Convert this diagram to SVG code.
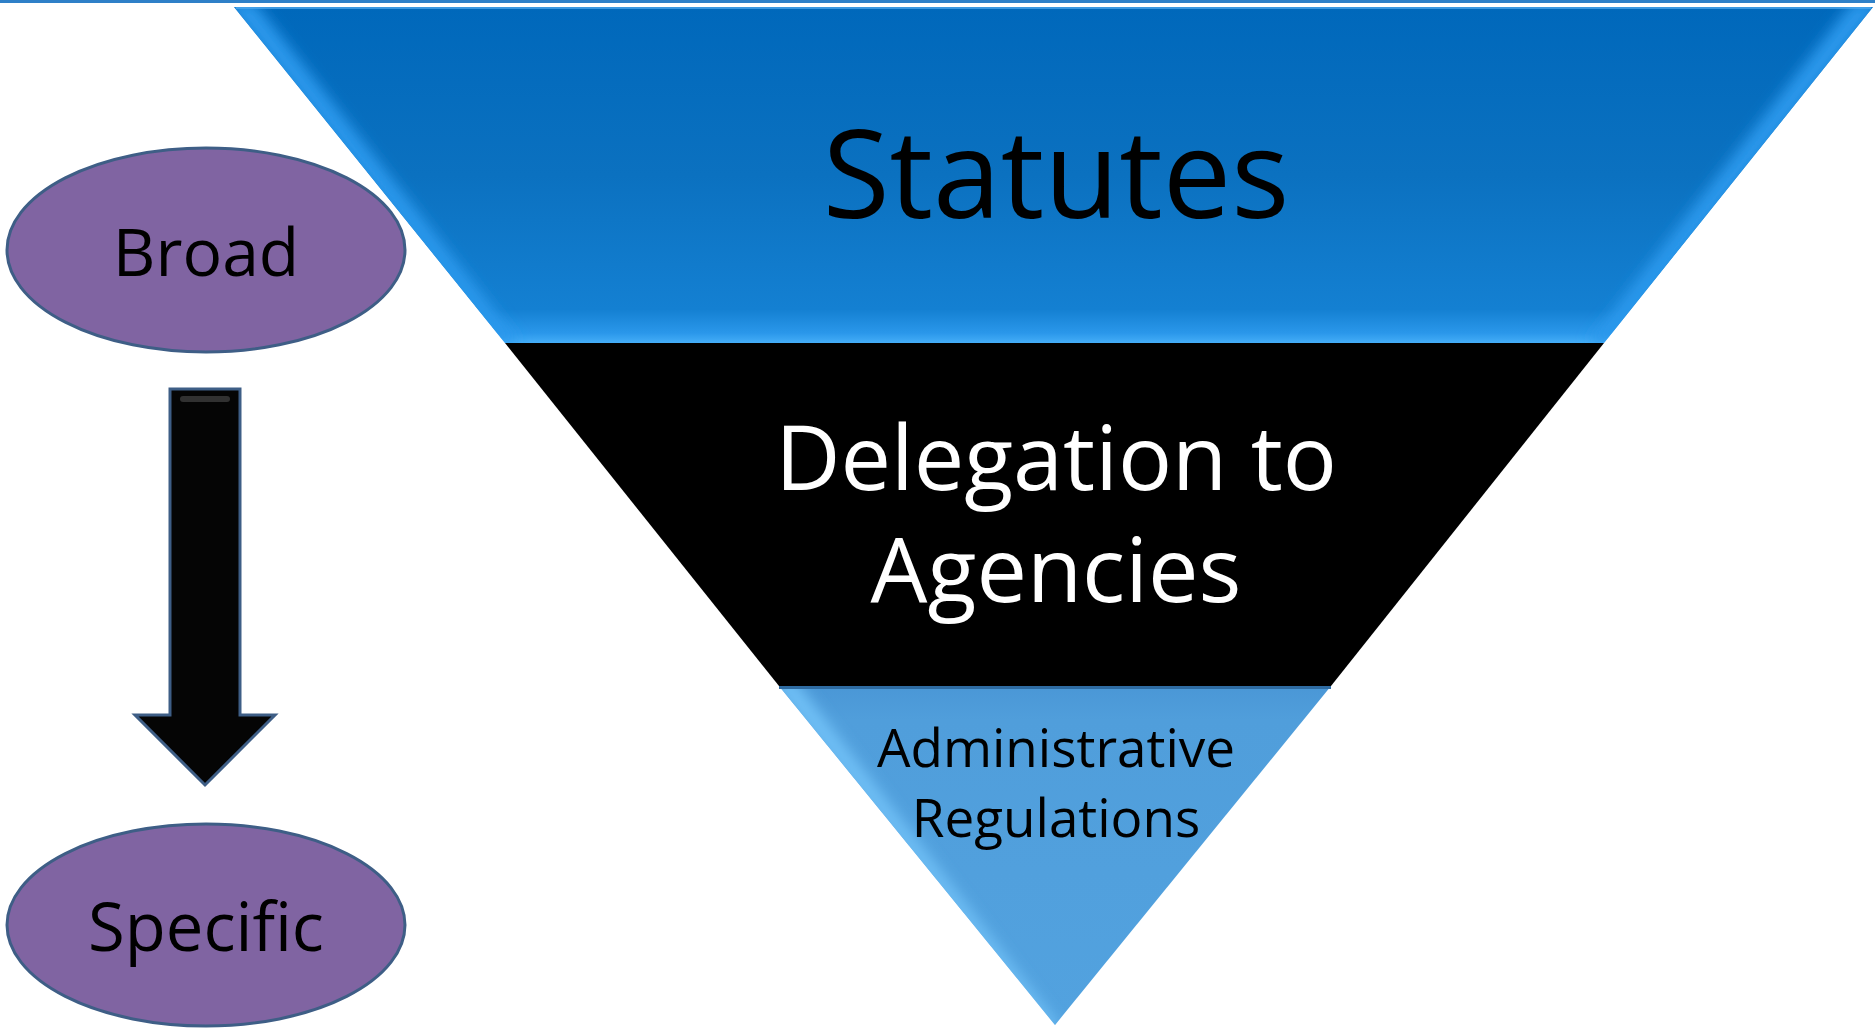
<svg xmlns="http://www.w3.org/2000/svg" width="1875" height="1029" viewBox="0 0 1875 1029">
<defs>
<linearGradient id="gTop" x1="0" y1="7" x2="0" y2="343" gradientUnits="userSpaceOnUse">
<stop offset="0" stop-color="#0068BB"/>
<stop offset="0.5" stop-color="#0B71C0"/>
<stop offset="0.9" stop-color="#1480D2"/>
<stop offset="0.97" stop-color="#2A97EA"/>
<stop offset="1" stop-color="#45AEF8"/>
</linearGradient>
<linearGradient id="gBot" x1="0" y1="686" x2="0" y2="1025" gradientUnits="userSpaceOnUse">
<stop offset="0" stop-color="#4A97D6"/>
<stop offset="0.1" stop-color="#509EDB"/>
<stop offset="1" stop-color="#52A2DF"/>
</linearGradient>
<clipPath id="cTop"><polygon points="234,7 1873,7 1604,343 505,343"/></clipPath>
<clipPath id="cBot"><polygon points="779,686 1331,686 1055,1025"/></clipPath>
<filter id="soft" x="-0.2" y="-0.2" width="1.4" height="1.4"><feGaussianBlur stdDeviation="7"/></filter>
<style>
.ell{fill:#8064A2;stroke:#3E5E86;stroke-width:3}
.lbl{font-family:"Open Sans","Liberation Sans",sans-serif;text-anchor:middle}
</style>
</defs>
<rect x="0" y="0" width="1875" height="1029" fill="#FFFFFF"/>
<rect x="0" y="0" width="1875" height="3" fill="#2E80C8"/>
<g id="statutes">
<polygon points="234,7 1873,7 1604,343 505,343" fill="url(#gTop)"/>
<g clip-path="url(#cTop)">
<polygon points="224,2 254,2 520,343 495,343" fill="#2C98EC" filter="url(#soft)"/>
<polygon points="1883,2 1853,2 1588,343 1614,343" fill="#2C98EC" filter="url(#soft)"/>
</g>
<line x1="236" y1="8" x2="1871" y2="8" stroke="#4FA8EE" stroke-width="1.5"/>
<text class="lbl" x="1056" y="218" font-size="122" fill="#000000">Statutes</text>
</g>
<g id="delegation">
<polygon points="505,343 1604,343 1331,686 779,686" fill="#000000"/>
<text class="lbl" x="1056" y="490" font-size="90" fill="#FFFFFF">Delegation to</text>
<text class="lbl" x="1056" y="602" font-size="90" fill="#FFFFFF">Agencies</text>
</g>
<g id="regulations">
<polygon points="779,686 1331,686 1055,1025" fill="url(#gBot)"/>
<g clip-path="url(#cBot)">
<polygon points="769,680 795,680 1062,1030 1048,1030" fill="#70C0F6" filter="url(#soft)"/>
</g>
<line x1="779" y1="687.5" x2="1331" y2="687.5" stroke="#2E6BA2" stroke-width="3"/>
<text class="lbl" x="1056" y="767" font-size="53" fill="#000000">Administrative</text>
<text class="lbl" x="1056" y="837" font-size="53" fill="#000000">Regulations</text>
</g>
<g id="broad">
<ellipse class="ell" cx="206" cy="250" rx="199" ry="102"/>
<text class="lbl" x="206" y="276" font-size="66" fill="#000000">Broad</text>
</g>
<g id="specific">
<ellipse class="ell" cx="206" cy="925" rx="199" ry="101"/>
<text class="lbl" x="206" y="951" font-size="67" fill="#000000">Specific</text>
</g>
<g id="connectors">
<polygon points="170,389 240,389 240,715 275,715 205,785 135,715 170,715" fill="#050505" stroke="#3E5E86" stroke-width="3" stroke-linejoin="miter"/>
<rect x="180" y="396" width="50" height="6" rx="3" fill="#444444" opacity="0.7"/>
</g>
</svg>
